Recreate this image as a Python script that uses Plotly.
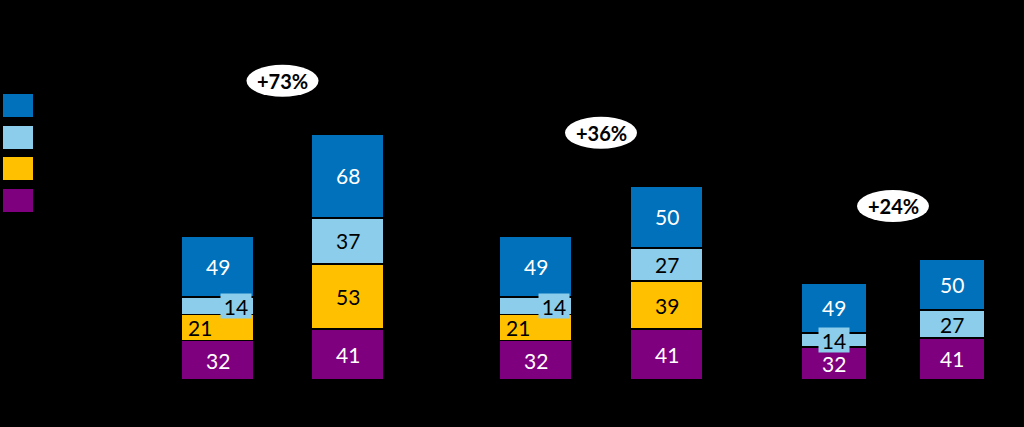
import plotly.graph_objects as go

# ---------------- data ----------------
categories = ["A", "B"]
purple = [[32, 41], [32, 41], [32, 41]]
yellow = [[21, 53], [21, 39], [0, 0]]
light_blue = [[14, 37], [14, 27], [14, 27]]
dark_blue = [[49, 68], [49, 50], [49, 50]]
growth = ["+73%", "+36%", "+24%"]
series_names = ["Series 1", "Series 2", "Series 3", "Series 4"]

# ---------------- style ----------------
C_DARK = "#0071BA"
C_LIGHT = "#8BCDEA"
C_YEL = "#FFC000"
C_PUR = "#7F007F"
W, H = 1024, 427
FONT = "Lato"

x_domains = [(152.5 / W, 412.5 / W), (470 / W, 732 / W), (774.75 / W, 1011.25 / W)]
y_bottom = 1 - 380 / H
y_ranges = [380 / 1.237, 380 / 1.237, 380 / 1.025]

fig = go.Figure()

stack = [  # bottom to top
    (purple, C_PUR, "white", series_names[3]),
    (yellow, C_YEL, "black", series_names[2]),
    (light_blue, C_LIGHT, "black", series_names[1]),
    (dark_blue, C_DARK, "white", series_names[0]),
]

for gi in range(3):
    xa = "x" if gi == 0 else f"x{gi+1}"
    ya = "y" if gi == 0 else f"y{gi+1}"
    base = [0, 0]
    for si, (vals, col, tcol, name) in enumerate(stack):
        v = vals[gi]
        fig.add_trace(go.Bar(
            x=categories, y=v, name=name, xaxis=xa, yaxis=ya,
            marker=dict(color=col, line=dict(color="black", width=1.8)),
            showlegend=False, hoverinfo="skip",
        ))
        for ci in range(2):
            if v[ci] <= 0:
                continue
            mid = base[ci] + v[ci] / 2
            ann = dict(x=categories[ci], y=mid, xref=xa, yref=ya,
                       text=str(v[ci]), showarrow=False,
                       font=dict(family=FONT, size=21, color=tcol))
            if si == 2 and ci == 0:  # small light-blue segment with box
                ann.update(bgcolor=C_LIGHT, width=30, height=24, borderpad=0)
                if gi < 2:
                    ann.update(xshift=18)
            elif si == 1 and ci == 0 and gi < 2:
                ann.update(xshift=-18)
            fig.add_annotation(**ann)
            base[ci] += v[ci]
    tot_b = purple[gi][1] + yellow[gi][1] + light_blue[gi][1] + dark_blue[gi][1]
    fig.add_shape(type="circle", xref=xa, yref=ya,
                  xsizemode="pixel", ysizemode="pixel",
                  xanchor=0.5, yanchor=tot_b,
                  x0=-36, x1=36, y0=37, y1=69,
                  fillcolor="white", line=dict(width=0))
    fig.add_annotation(x=0.5, y=tot_b, xref=xa, yref=ya, yshift=53,
                       text=f"<b>{growth[gi]}</b>", showarrow=False,
                       font=dict(family=FONT, size=20, color="black"))

# legend swatches (legend text is black on black in the original)
sw_cols = [C_DARK, C_LIGHT, C_YEL, C_PUR]
sw_tops = [94, 126, 157, 189]
for col, top, name in zip(sw_cols, sw_tops, series_names):
    fig.add_shape(type="rect", xref="paper", yref="paper",
                  x0=3 / W, x1=33 / W, y0=1 - (top + 23) / H, y1=1 - top / H,
                  fillcolor=col, line=dict(width=0))
    fig.add_annotation(x=40 / W, y=1 - (top + 11.5) / H, xref="paper", yref="paper",
                       xanchor="left", text=name, showarrow=False,
                       font=dict(family=FONT, size=16, color="black"))

layout = dict(
    width=W, height=H, margin=dict(l=0, r=0, t=0, b=0),
    paper_bgcolor="black", plot_bgcolor="black",
    barmode="stack", showlegend=False, bargap=0.44,
)
for gi in range(3):
    xk = "xaxis" if gi == 0 else f"xaxis{gi+1}"
    yk = "yaxis" if gi == 0 else f"yaxis{gi+1}"
    layout[xk] = dict(domain=list(x_domains[gi]), range=[-0.5, 1.5],
                      visible=False, anchor="y" if gi == 0 else f"y{gi+1}")
    layout[yk] = dict(domain=[y_bottom, 1], range=[0, y_ranges[gi]],
                      visible=False, anchor="x" if gi == 0 else f"x{gi+1}")
fig.update_layout(**layout)

fig.write_html(
    "out.html",
    config={"displayModeBar": False},
    post_script="document.body.style.margin='0';document.body.style.background='black';",
)
